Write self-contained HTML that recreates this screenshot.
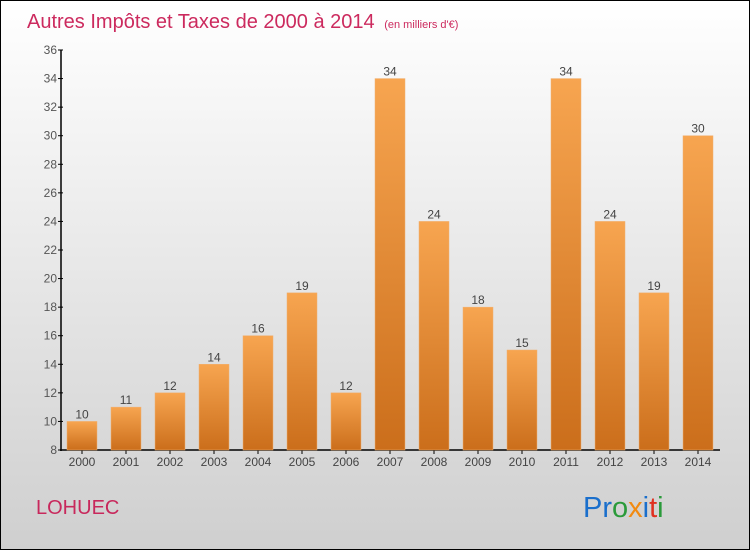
<!DOCTYPE html>
<html><head><meta charset="utf-8"><style>
html,body{margin:0;padding:0}
body{width:750px;height:550px;overflow:hidden;font-family:"Liberation Sans",sans-serif}
#frame{position:absolute;left:0;top:0;width:748px;height:548px;border:1px solid #000;background:linear-gradient(#ffffff,#cfcfcf)}
</style></head><body>
<div id="frame">
<svg width="750" height="550" style="position:absolute;left:-1px;top:-1px">
<defs><linearGradient id="bg" x1="0" y1="0" x2="0" y2="1"><stop offset="0" stop-color="#f7a550"/><stop offset="1" stop-color="#cb6e1b"/></linearGradient></defs>
<text x="27" y="28" font-size="20" fill="#cc2a5e">Autres Impôts et Taxes de 2000 à 2014 <tspan font-size="11" dx="4">(en milliers d'€)</tspan></text>
<g id="axes"></g><g id="bars"></g>
<text x="36" y="514" font-size="20" fill="#c8285c">LOHUEC</text>
<text x="583" y="517" font-size="29"><tspan fill="#1a6fcc">Pr</tspan><tspan fill="#2a9a3a">o</tspan><tspan fill="#f28a10">x</tspan><tspan fill="#1a6fcc">i</tspan><tspan fill="#e03020">t</tspan><tspan fill="#2a9a3a">i</tspan></text>
</svg></div>
<script>
const years=["2000","2001","2002","2003","2004","2005","2006","2007","2008","2009","2010","2011","2012","2013","2014"];
const values=[10,11,12,14,16,19,12,34,24,18,15,34,24,19,30];
const yTicks=[8,10,12,14,16,18,20,22,24,26,28,30,32,34,36];
const NS="http://www.w3.org/2000/svg";
const y=v=>450-(v-8)*400/28;
const x=i=>82+i*44;
function mk(t,a,p,txt){const e=document.createElementNS(NS,t);for(const k in a)e.setAttribute(k,a[k]);if(txt!==undefined)e.textContent=txt;p.appendChild(e);return e;}
const ax=document.getElementById('axes'),bg=document.getElementById('bars');
let e=mk('line',{x1:61,y1:50,x2:61,y2:451,stroke:'#000','stroke-width':1.5},ax);


e=mk('line',{x1:60,y1:450,x2:720,y2:450,stroke:'#000','stroke-width':1.5},ax);


yTicks.forEach(v=>{
 mk('line',{x1:58,y1:y(v),x2:63,y2:y(v),stroke:'#000'},ax);
 e=mk('text',{x:57,y:y(v)+4,'font-size':12,fill:'#555','text-anchor':'end'},ax,v);
 
 
});
years.forEach((yr,i)=>{
 const v=values[i];
 e=mk('rect',{x:x(i)-15,y:y(v),width:30,height:450-y(v),fill:'url(#bg)',stroke:'#f0b070','stroke-width':0.5},bg);
 
 
 e=mk('text',{x:x(i),y:y(v)-3,'font-size':12,fill:'#444','text-anchor':'middle'},bg,v);
 
 
 mk('line',{x1:x(i),y1:450,x2:x(i),y2:454,stroke:'#000'},ax);
 e=mk('text',{x:x(i),y:466,'font-size':12,fill:'#444','text-anchor':'middle'},ax,yr);
 
 
});
</script>
</body></html>
